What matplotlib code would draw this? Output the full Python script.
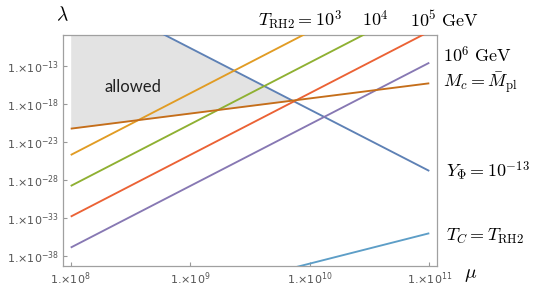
import numpy as np
import matplotlib
matplotlib.use("Agg")
import matplotlib.pyplot as plt
from matplotlib.ticker import FixedLocator, FuncFormatter

plt.rcParams['mathtext.fontset'] = 'cm'

# ---- data (log10 values at mu = 1e8 and mu = 1e11) ----
mu_ends = [1e8, 1e11]
trh_orange = [-24.73, -0.34]   # T_RH2 = 1e3
trh_green = [-28.81, -4.42]    # T_RH2 = 1e4
trh_red = [-32.85, -8.46]      # T_RH2 = 1e5
trh_purple = [-36.93, -12.57]  # T_RH2 = 1e6
mc_brown = [-21.26, -15.28]    # M_c = Mpl
yphi_blue = [-2.54, -26.83]    # Y_Phi = 1e-13
tc_lightblue = [-47.04, -35.04]  # T_C = T_RH2

xticks = [1e8, 1e9, 1e10, 1e11]
yticks = [1e-13, 1e-18, 1e-23, 1e-28, 1e-33, 1e-38]

C_BLUE = '#5E81B5'
C_ORANGE = '#E19C24'
C_GREEN = '#8FB032'
C_RED = '#EB6235'
C_PURPLE = '#8778B3'
C_BROWN = '#C56E1A'
C_LBLUE = '#5D9EC7'

W, H = 536, 289
fig = plt.figure(figsize=(W / 100, H / 100), dpi=100)
ax = fig.add_axes([63.3 / W, 1 - 266 / H, (436.7 - 63.3) / W, (266 - 35) / H])

lx_ends = np.log10(mu_ends)

def line_y(vals, mu):
    lx = np.log10(mu)
    slope = (vals[1] - vals[0]) / (lx_ends[1] - lx_ends[0])
    ly = vals[0] + slope * (lx - lx_ends[0])
    return 10.0 ** ly

mu = np.logspace(8, 11, 600)

# allowed region
yb = line_y(mc_brown, mu)
yu = np.minimum(line_y(yphi_blue, mu), 1e-5)
ax.fill_between(mu, yb, yu, where=yu > yb, color='#E3E3E3', linewidth=0, zorder=1, interpolate=True)

lw = 1.35
for vals, c in [(yphi_blue, C_BLUE), (trh_orange, C_ORANGE), (trh_green, C_GREEN),
                (trh_red, C_RED), (trh_purple, C_PURPLE), (mc_brown, C_BROWN),
                (tc_lightblue, C_LBLUE)]:
    ax.plot(mu, line_y(vals, mu), color=c, lw=lw, zorder=3, solid_capstyle='butt')

ax.set_xscale('log')
ax.set_yscale('log')
ax.set_xlim(10 ** 7.938, 10 ** 11.062)
ax.set_ylim(10 ** -39.357, 10 ** -8.915)

ax.xaxis.set_major_locator(FixedLocator(xticks))
ax.yaxis.set_major_locator(FixedLocator(yticks))
ax.xaxis.set_minor_locator(FixedLocator([]))
ax.yaxis.set_minor_locator(FixedLocator([]))

def fmt(v, pos):
    e = int(round(np.log10(v)))
    return r'1.$\times$10$^{%d}$' % e

ax.xaxis.set_major_formatter(FuncFormatter(fmt))
ax.yaxis.set_major_formatter(FuncFormatter(fmt))
ax.tick_params(direction='in', length=3, width=0.8, color='#999999',
               labelcolor='#555555', labelsize=8, pad=3)
for lab in ax.get_xticklabels() + ax.get_yticklabels():
    lab.set_math_fontfamily('dejavusans')
    lab.set_family('DejaVu Sans')
for s in ax.spines.values():
    s.set_color('#A0A0A0')
    s.set_linewidth(0.9)

ax.text(10 ** 8.52, 10 ** -15.8, 'allowed', fontsize=12, family='Lato',
        ha='center', va='center', color='#222222', zorder=4)

def ftext(x, y, s, **kw):
    fig.text(x / W, 1 - y / H, s, **kw)

fs = 13
ftext(62, 15, r'$\lambda$', fontsize=14, ha='center', va='center')
ftext(471, 275, r'$\mu$', fontsize=14, ha='center', va='center')
ftext(342, 20, r'$T_{\rm RH2}=10^3$', fontsize=fs, ha='right', va='center')
ftext(375, 20, r'$10^4$', fontsize=fs, ha='center', va='center')
ftext(410, 20, r'$10^5\ {\rm GeV}$', fontsize=fs, ha='left', va='center')
ftext(443, 56, r'$10^6\ {\rm GeV}$', fontsize=fs, ha='left', va='center')
ftext(443, 83, r'$M_c=\bar{M}_{\rm pl}$', fontsize=fs, ha='left', va='center')
ftext(446, 171, r'$Y_\Phi=10^{-13}$', fontsize=fs, ha='left', va='center')
ftext(446, 236, r'$T_C=T_{\rm RH2}$', fontsize=fs, ha='left', va='center')

fig.savefig('out.png', dpi=100)
